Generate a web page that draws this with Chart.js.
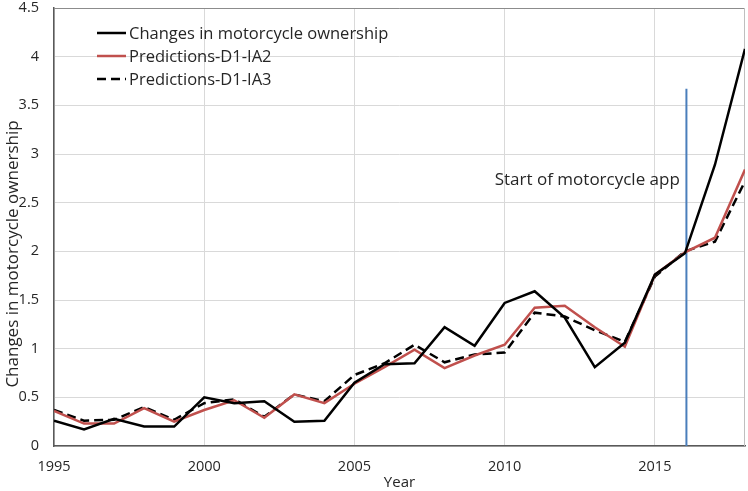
<!DOCTYPE html>
<html lang="en">
<head>
  <meta charset="UTF-8">
  <title>Changes in motorcycle ownership</title>
  <style>
    html, body { margin: 0; padding: 0; background: #fff; }
    #chart-container { width: 748px; height: 491px; }
  </style>
  <script src="https://cdn.jsdelivr.net/npm/chart.js"></script>
</head>
<body>
  <div id="chart-container">
    <canvas id="ownChart" width="748" height="491"></canvas>
  </div>
  <script>
    const years = [1995, 1996, 1997, 1998, 1999, 2000, 2001, 2002, 2003, 2004, 2005, 2006,
                   2007, 2008, 2009, 2010, 2011, 2012, 2013, 2014, 2015, 2016, 2017, 2018];
    const ownership = [0.26, 0.17, 0.28, 0.2, 0.2, 0.5, 0.44, 0.46, 0.25, 0.26, 0.65, 0.84,
                       0.85, 1.22, 1.03, 1.47, 1.59, 1.32, 0.81, 1.06, 1.76, 1.98, 2.89, 4.08];
    const predIA2 = [0.36, 0.23, 0.23, 0.39, 0.25, 0.37, 0.47, 0.29, 0.53, 0.44, 0.64, 0.81,
                     0.99, 0.8, 0.93, 1.04, 1.42, 1.44, 1.22, 1.02, 1.76, 1.99, 2.14, 2.84];
    const predIA3 = [0.37, 0.26, 0.27, 0.4, 0.27, 0.44, 0.48, 0.3, 0.53, 0.46, 0.73, 0.85,
                     1.04, 0.86, 0.94, 0.96, 1.37, 1.33, 1.19, 1.07, 1.74, 2.0, 2.1, 2.72];
    const xTicks = [1995, 2000, 2005, 2010, 2015];
    const appStartYear = 2016.05;
    const appLineTop = 3.67;
    const seriesNames = ['Changes in motorcycle ownership', 'Predictions-D1-IA2', 'Predictions-D1-IA3'];
    const yTitle = 'Changes in motorcycle ownership';
    const annotation = { text: 'Start of motorcycle app', x: 2009.67, y: 2.73 };

    const FONT = "'Open Sans', 'Liberation Sans', sans-serif";
    const TEXT = '#262626';
    const pts = vals => vals.map((v, i) => ({ x: years[i], y: v }));

    // plot frame on top/right, legend inside the plot, the note, and the y title
    const extras = {
      id: 'extras',
      beforeDatasetsDraw(chart) {
        const { ctx, chartArea: a } = chart;
        ctx.save();
        ctx.lineWidth = 1;
        ctx.strokeStyle = '#8c8c8c';
        ctx.beginPath();
        ctx.moveTo(a.left, a.top + 0.5);
        ctx.lineTo(a.right - 0.5, a.top + 0.5);
        ctx.stroke();
        ctx.strokeStyle = '#bfbfbf';
        ctx.beginPath();
        ctx.moveTo(a.right - 0.5, a.top);
        ctx.lineTo(a.right - 0.5, a.bottom);
        ctx.stroke();
        ctx.restore();
      },
      afterDraw(chart) {
        const { ctx, chartArea, scales } = chart;
        ctx.save();
        ctx.font = '16.5px ' + FONT;
        ctx.textBaseline = 'middle';
        ctx.fillStyle = TEXT;
        chart.data.datasets.slice(0, 3).forEach((ds, i) => {
          const y = chartArea.top + 25 + i * 23;
          const x0 = chartArea.left + 43;
          ctx.beginPath();
          ctx.strokeStyle = ds.borderColor;
          ctx.lineWidth = 2.5;
          ctx.setLineDash(ds.borderDash || []);
          ctx.moveTo(x0, y);
          ctx.lineTo(x0 + 29, y);
          ctx.stroke();
          ctx.setLineDash([]);
          ctx.fillText(seriesNames[i], x0 + 32, y + 1);
        });
        ctx.font = '17px ' + FONT;
        ctx.fillText(annotation.text, scales.x.getPixelForValue(annotation.x), scales.y.getPixelForValue(annotation.y));

        ctx.textAlign = 'center';
        ctx.translate(13, (chartArea.top + chartArea.bottom) / 2 + 27);
        ctx.rotate(-Math.PI / 2);
        ctx.fillText(yTitle, 0, 0);
        ctx.restore();
      }
    };

    new Chart(document.getElementById('ownChart'), {
      type: 'line',
      data: {
        datasets: [
          { label: seriesNames[0], data: pts(ownership), borderColor: '#000000', borderWidth: 2.5 },
          { label: seriesNames[1], data: pts(predIA2), borderColor: '#c0504d', borderWidth: 2.5 },
          { label: seriesNames[2], data: pts(predIA3), borderColor: '#000000', borderWidth: 2.5, borderDash: [9, 5] },
          { label: 'app', data: [{ x: appStartYear, y: 0 }, { x: appStartYear, y: appLineTop }],
            borderColor: '#4a7ebb', borderWidth: 2 }
        ]
      },
      options: {
        responsive: false,
        animation: false,
        elements: { point: { radius: 0 }, line: { tension: 0, borderCapStyle: 'butt' } },
        layout: { padding: { top: 0, right: 3, left: 0, bottom: 0 } },
        plugins: { legend: { display: false }, tooltip: { enabled: false } },
        scales: {
          x: {
            type: 'linear', min: 1995, max: 2018,
            afterBuildTicks: s => { s.ticks = xTicks.map(v => ({ value: v })); },
            afterFit: s => { s.height = 45; },
            border: { color: '#595959', width: 1.5 },
            grid: { color: '#d9d9d9', drawTicks: false },
            ticks: { padding: 12, color: TEXT, font: { family: FONT, size: 14.5 },
                     callback: v => String(v) },
            title: { display: true, text: 'Year', color: TEXT, padding: { top: 0, bottom: -1 },
                     font: { family: FONT, size: 15 } }
          },
          y: {
            min: 0, max: 4.5,
            afterFit: s => { s.width = 54; s.paddingTop = 8; s.paddingBottom = 0; },
            border: { color: '#595959', width: 1.5 },
            grid: { color: '#d9d9d9', drawTicks: false },
            ticks: { stepSize: 0.5, padding: 15, color: TEXT,
                     font: { family: FONT, size: 14.5 },
                     callback: v => String(v) }
          }
        }
      },
      plugins: [extras]
    });
  </script>
</body>
</html>
